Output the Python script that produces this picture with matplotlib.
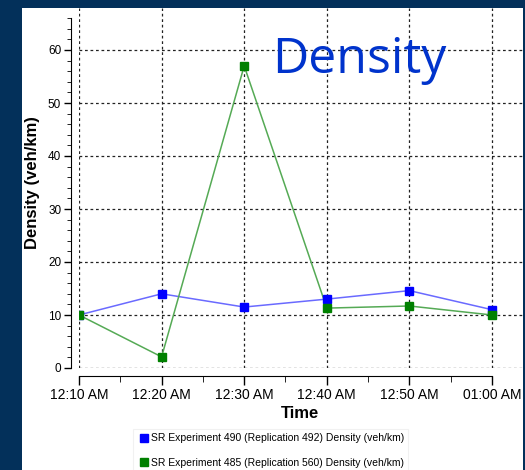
import matplotlib.pyplot as plt
import numpy as np
from matplotlib.patches import Rectangle
from matplotlib.lines import Line2D

plt.rcParams['font.family'] = ['Liberation Sans', 'DejaVu Sans']

# data (minutes after midnight)
times = [10, 20, 30, 40, 50, 60]
time_labels = ['12:10 AM', '12:20 AM', '12:30 AM', '12:40 AM', '12:50 AM', '01:00 AM']
density_490 = [10.0, 14.0, 11.5, 13.0, 14.6, 11.0]
density_485 = [10.0, 2.1, 57.0, 11.3, 11.7, 10.0]
name_490 = 'SR Experiment 490 (Replication 492) Density (veh/km)'
name_485 = 'SR Experiment 485 (Replication 560) Density (veh/km)'

W, H = 525, 470
PT = 0.72  # points per pixel at dpi 100
fig = plt.figure(figsize=(W / 100, H / 100), dpi=100)
fig.patch.set_facecolor('#03305a')
# white panel
fig.add_artist(Rectangle((22 / W, 0), (523 - 22) / W, (H - 8) / H,
                         transform=fig.transFigure, facecolor='white',
                         edgecolor='none', zorder=0))

# axes: left = first data point, bottom = y 0, top = white top
ax = fig.add_axes([79 / W, (H - 368) / H, (523 - 79) / W, (368 - 8) / H])
ax.set_facecolor('none')

ax.plot(times, density_490, color='#6a6aff', lw=1.1, zorder=3)
ax.plot(times, density_490, 's', color='#0000ff', ms=6, zorder=4)
ax.plot(times, density_485, color='#55aa55', lw=1.1, zorder=3)
ax.plot(times, density_485, 's', color='#008000', ms=6, zorder=4)

px_per_min = (492 - 79) / 50
ax.set_xlim(10, 60 + (523 - 492) / px_per_min)
ax.set_ylim(0, 360 / 5.3)

ax.set_xticks(times)
ax.set_xticklabels(time_labels, fontsize=8.5)
ax.set_xticks([15, 25, 35, 45, 55], minor=True)
ax.set_yticks(np.arange(0, 61, 10))
ax.set_yticks(np.arange(0, 67, 2), minor=True)
ax.tick_params(axis='y', labelsize=8.5, length=7 * PT, width=1, direction='out', pad=2)
ax.tick_params(axis='y', which='minor', length=4 * PT)
ax.tick_params(axis='x', length=9 * PT, width=1, direction='out', pad=2)
ax.tick_params(axis='x', which='minor', length=6 * PT)

ax.grid(True, color='#222222', linestyle=(0, (2.2, 2.2)), lw=0.9)

for s in ['top', 'right']:
    ax.spines[s].set_visible(False)
ax.spines['left'].set_position(('outward', 8 * PT))
ax.spines['bottom'].set_position(('outward', 8 * PT))
ax.spines['left'].set_bounds(0, 66)
ax.spines['bottom'].set_bounds(10, 60)

ax.set_xlabel('Time', fontsize=12, fontweight='bold')
ax.xaxis.set_label_coords((300 - 79) / (523 - 79), -(413 - 368) / 360, transform=ax.transAxes)
ax.set_ylabel('Density (veh/km)', fontsize=12, fontweight='bold')
ax.yaxis.set_label_coords(-(79 - 33) / (523 - 79), (368 - 183) / 360, transform=ax.transAxes)
ax.xaxis.label.set_va('center')
ax.yaxis.label.set_va('center')

fig.text(272 / W, 1 - 73 / H, 'Density', fontsize=36, color='#0033cc',
         family='Open Sans', ha='left', va='baseline')

handles = [Line2D([], [], marker='s', ls='none', color='#0000ff', ms=6),
           Line2D([], [], marker='s', ls='none', color='#008000', ms=6)]
leg = fig.legend(handles, [name_490, name_485], loc='upper left',
                 bbox_to_anchor=(128 / W, 1 - 424 / H), frameon=True,
                 prop={'size': 7.5},
                 handletextpad=0.1, labelspacing=1.4, borderpad=0.4,
                 fancybox=False, handlelength=1.2)
leg.get_frame().set_edgecolor('#eeeeee')
leg.get_frame().set_linewidth(0.8)

fig.savefig('out.png', dpi=100, facecolor=fig.get_facecolor())
